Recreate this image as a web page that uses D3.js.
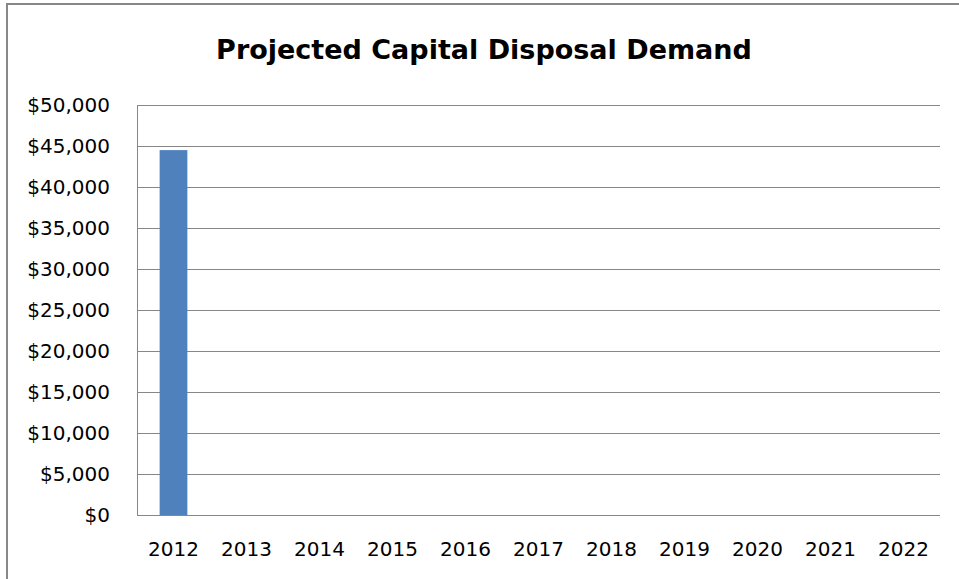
<!DOCTYPE html>
<meta charset="utf-8">
<style>
body { margin: 0; background: #fff; }
svg { display: block; }
.grid line { stroke: #878787; stroke-width: 1px; shape-rendering: crispEdges; }
.axis path, .axis line { display: none; }
.axis text { font-family: "DejaVu Sans", sans-serif; font-size: 20px; fill: #000; }
.title { font-family: "DejaVu Sans", sans-serif; font-size: 27px; font-weight: bold; text-anchor: middle; }
</style>
<svg width="959" height="579"></svg>

<script src="https://cdn.jsdelivr.net/npm/d3@7"></script>
<script>

var years = ["2012", "2013", "2014", "2015", "2016", "2017", "2018", "2019", "2020", "2021", "2022"];
var demand = [44500, 0, 0, 0, 0, 0, 0, 0, 0, 0, 0];
var yTicks = [0, 5000, 10000, 15000, 20000, 25000, 30000, 35000, 40000, 45000, 50000];

var svg = d3.select("svg"),
    margin = {top: 105, right: 19, bottom: 64, left: 137},
    width = +svg.attr("width") - margin.left - margin.right,
    height = +svg.attr("height") - margin.top - margin.bottom;

// chart frame (right and bottom edges fall outside the picture)
svg.append("path")
    .attr("d", "M7,579V4H959")
    .attr("fill", "none")
    .attr("stroke", "#888")
    .attr("stroke-width", 2);

svg.append("text")
    .attr("class", "title")
    .attr("x", 484)
    .attr("y", 59)
    .text("Projected Capital Disposal Demand");

var g = svg.append("g").attr("transform", "translate(" + margin.left + "," + margin.top + ")");

var x = d3.scaleBand()
    .domain(years)
    .range([0, width])
    .paddingInner(0.62)
    .paddingOuter(0.31);

var y = d3.scaleLinear()
    .domain([0, 50000])
    .range([height, 0]);

var money = function(d) { return "$" + d3.format(",")(d); };

g.append("g")
    .attr("class", "grid")
  .selectAll("line")
  .data(yTicks)
  .enter().append("line")
    .attr("x1", 0)
    .attr("x2", width)
    .attr("y1", function(d) { return Math.round(y(d)) + 0.5; })
    .attr("y2", function(d) { return Math.round(y(d)) + 0.5; });

g.append("line")
    .attr("x1", 0.5).attr("x2", 0.5)
    .attr("y1", 0).attr("y2", height)
    .attr("stroke", "#878787")
    .attr("shape-rendering", "crispEdges");

g.selectAll(".bar")
  .data(demand)
  .enter().append("rect")
    .attr("class", "bar")
    .attr("x", function(d, i) { return x(years[i]); })
    .attr("y", function(d) { return y(d); })
    .attr("width", x.bandwidth())
    .attr("height", function(d) { return height - y(d); })
    .attr("fill", "#4f81bd");

g.append("g")
    .attr("class", "axis axis--y")
    .attr("transform", "translate(-27,0)")
    .call(d3.axisLeft(y).tickValues(yTicks).tickFormat(money).tickSize(0).tickPadding(0));

g.append("g")
    .attr("class", "axis axis--x")
    .attr("transform", "translate(0," + height + ")")
    .call(d3.axisBottom(x).tickSize(0).tickPadding(27));

</script>
